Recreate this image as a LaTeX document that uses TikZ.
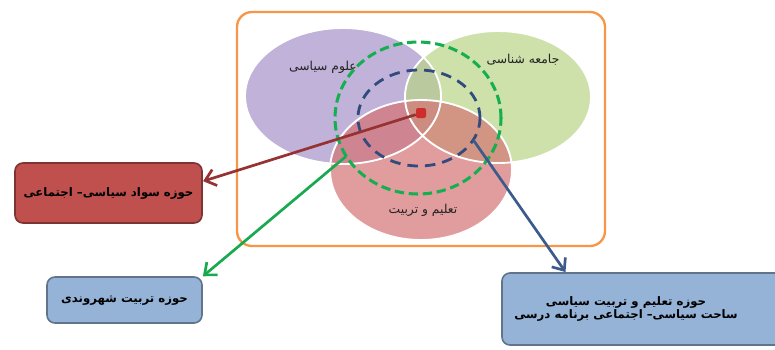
\documentclass[tikz,border=0pt]{standalone}
\usepackage{fontspec}
\newfontfamily\farsi[Script=Arabic]{DejaVu Sans}
\TeXXeTstate=1
\usepackage{tikz}
\usetikzlibrary{positioning}
\usetikzlibrary{shapes.geometric}
\usetikzlibrary{arrows.meta}

\definecolor{frameorange}{HTML}{F79646}
\definecolor{polpurple}{RGB}{165,145,200}
\definecolor{socgreen}{RGB}{185,212,135}
\definecolor{edured}{RGB}{212,115,115}
\definecolor{ringgreen}{RGB}{20,175,80}
\definecolor{ringblue}{RGB}{50,75,125}
\definecolor{dotred}{RGB}{205,45,45}
\definecolor{boxred}{HTML}{C0504D}
\definecolor{boxblue}{HTML}{95B3D7}
\definecolor{arrowred}{RGB}{150,50,50}
\definecolor{arrowgreen}{RGB}{25,170,80}
\definecolor{arrowblue}{RGB}{60,90,140}
\definecolor{labelgray}{RGB}{35,35,35}

\tikzset{
	field/.style={ellipse, inner sep=0pt, outer sep=0pt, fill opacity=0.7},
	fieldname/.style={font=\farsi\fontsize{10.5}{12}\selectfont, text=labelgray},
	ring/.style={ellipse, inner sep=0pt, outer sep=0pt, draw=#1},
	zone/.style={rectangle, rounded corners=2.4mm, draw=#1!65!black, line width=1.4pt, fill=#1, inner sep=0pt, outer sep=0pt, text=black, align=center, font=\farsi\bfseries\fontsize{10}{11.5}\selectfont},
	link/.style={line width=2.3pt, -{Straight Barb[length=3mm,width=5mm]}, shorten >=1pt},
}

\begin{document}
\begin{tikzpicture}[x=0.3mm,y=-0.3mm]
	\useasboundingbox (0,0) rectangle (775,349);

	% Frame
	\node [draw=frameorange, line width=2pt, rounded corners=4.5mm, minimum width=110.4mm, minimum height=70.2mm, inner sep=0pt] (frame) at (421,129) {};

	% Fields
	\node [field, fill=polpurple, minimum width=58.8mm, minimum height=40.8mm] (pol) at (343,96) {};
	\node [field, fill=socgreen, minimum width=55.8mm, minimum height=39.6mm] (soc) at (498,97) {};
	\node [field, fill=edured, minimum width=54.6mm, minimum height=42mm] (edu) at (421,170) {};
	\foreach \f/\rx/\ry in {pol/29.4/20.4, soc/27.9/19.8, edu/27.3/21}
		\draw [white, line width=1.6pt] (\f.center) ellipse [x radius=\rx mm, y radius=\ry mm];

	\node [fieldname] (polname) at (323,67) {\beginR علوم سیاسی\endR};
	\node [fieldname] (socname) at (523,60) {\beginR جامعه شناسی\endR};
	\node [fieldname] (eduname) at (423,210) {\beginR تعلیم و تربیت\endR};

	% Rings and core
	\node [ring=ringgreen, line width=2.6pt, dash pattern=on 8pt off 4pt, minimum width=49.8mm, minimum height=45.6mm] (civring) at (418,118) {};
	\node [ring=ringblue, line width=2.4pt, dash pattern=on 9pt off 6pt, minimum width=36.6mm, minimum height=28.8mm] (polring) at (419,118) {};
	\node [fill=dotred, minimum size=3mm, rounded corners=0.6mm, inner sep=0pt] (core) at (421,113) {};

	% Boxes
	\node [zone=boxred, minimum width=56.1mm, minimum height=18mm] (literacy) at (108.5,193) {\beginR حوزه سواد سیاسی– اجتماعی\endR};
	\node [zone=boxblue, minimum width=46.5mm, minimum height=13.8mm] (citizen) at (124.5,300) {\beginR حوزه تربیت شهروندی\endR};
	\node [zone=boxblue, minimum width=87mm, minimum height=21.6mm,
		label={[xshift=-6.3mm, align=center, font=\farsi\bfseries\fontsize{10}{11.5}\selectfont]center:\beginR حوزه تعلیم و تربیت سیاسی\endR\\\beginR ساحت سیاسی– اجتماعی برنامه درسی\endR}] (curric) at (647,309) {};

	% Connections
	\draw [link, draw=arrowred] (core) -- (literacy.7);
	\draw [link, draw=arrowgreen] (civring.208) -- (citizen.north east);
	\draw [link, draw=arrowblue] (polring.-22) -- (curric.156);
\end{tikzpicture}
\end{document}
